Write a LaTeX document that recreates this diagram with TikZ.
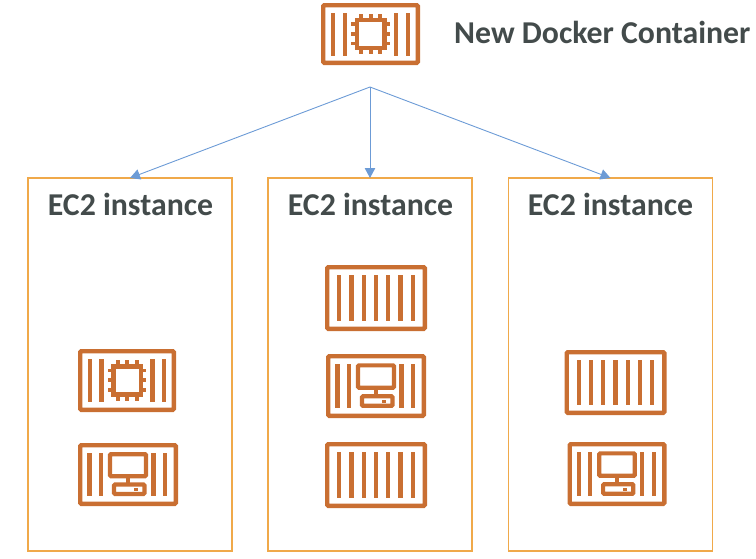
\documentclass[tikz,border=0pt]{standalone}
\usepackage{fontspec}
\setmainfont{Carlito}
\definecolor{iconc}{HTML}{C96F32}
\definecolor{boxc}{HTML}{F0A94A}
\definecolor{arrc}{HTML}{6C9BD6}
\definecolor{txtc}{HTML}{434B4B}
\usetikzlibrary{arrows.meta}
\newcommand{\icbars}[1]{\foreach \bx in {#1} \fill[iconc] (\bx-2.1,-21.5) rectangle (\bx+2.1,21.5);}
% #1 name, #2 x1, #3 y1, #4 x2, #5 y2, #6 kind
\newcommand{\ctr}[6]{%
  \node[iconbox,minimum width=#4-#2-4.4,minimum height=#5-#3-4.4] (#1) at ({(#2+#4)/2},{(#3+#5)/2}) {};
  \begin{scope}[shift={(#1.center)},xscale={(#4-#2)/100},yscale={-(#5-#3)/62}]
    #6
  \end{scope}}
\newcommand{\plainc}{\icbars{-36,-24,-12,0,12,24,36}}
\newcommand{\chipc}{\icbars{-37.5,-26,26,37.5}
  \draw[iconc,line width=4.2pt] (-13.8,-13.8) rectangle (14.2,13.8);
  \foreach \p in {-9.5,0.2,9.9} {
    \draw[iconc,line width=3.8pt] (\p,14) -- (\p,19.8);
    \draw[iconc,line width=3.8pt] (\p,-14) -- (\p,-19.8);
    \draw[iconc,line width=3.8pt] (14,\p) -- (19.8,\p);
    \draw[iconc,line width=3.8pt] (-14,\p) -- (-19.8,\p);}}
\newcommand{\pcc}{\icbars{-38.5,-27,25.5,37}
  \draw[iconc,line width=4.2pt,rounded corners=1pt] (-18,20) rectangle (18,-1.7);
  \fill[iconc] (-2.2,-1.7) rectangle (2.2,-8);
  \draw[iconc,line width=4.2pt,rounded corners=1pt] (-14,-9.9) rectangle (16.5,-19.2);
  \fill[iconc] (5.7,-13.7) rectangle (10,-16);}
\tikzset{
  iconbox/.style={draw=iconc,line width=4.4pt,rounded corners=1pt,inner sep=0pt,outer sep=0pt},
  hostbox/.style={draw=boxc,line width=1.6pt,inner sep=0pt,outer sep=0pt,minimum width=204,minimum height=373},
  hosttitle/.style={text=txtc,font=\fontsize{31.8}{36}\selectfont\bfseries,inner sep=0pt},
  link/.style={draw=arrc,line width=0.9pt,-{Triangle[length=10pt,width=10.5pt,fill=arrc]}}
}
\begin{document}
\begin{tikzpicture}[x=1pt,y=-1pt]
\useasboundingbox (0,0) rectangle (756,558);
\node[hostbox] (h1) at (130,364.5) {};
\node[hostbox] (h2) at (370,364.5) {};
\node[hostbox] (h3) at (610.5,364.5) {};
\node[hosttitle] (t1) at (130.5,204.2) {EC2 instance};
\node[hosttitle] (t2) at (370.5,204.2) {EC2 instance};
\node[hosttitle] (t3) at (610.5,204.2) {EC2 instance};
\node[hosttitle,anchor=west] (t0) at (454,32.2) {New Docker Container};
\ctr{top}{321}{3}{420}{65}{\chipc}
\ctr{a1}{78}{349}{176}{412}{\chipc}
\ctr{a2}{78}{443}{178}{506}{\pcc}
\ctr{b1}{325}{265}{427}{331}{\plainc}
\ctr{b2}{326}{354}{426}{418}{\pcc}
\ctr{b3}{325}{442}{427}{508}{\plainc}
\ctr{c1}{564.5}{350}{666.5}{415}{\plainc}
\ctr{c2}{567.5}{442}{666.5}{506}{\pcc}
\coordinate (apex) at (370,87);
\draw[link] (apex) -- (h1.north);
\draw[link] (apex) -- (h2.north);
\draw[link] (apex) -- (h3.north);
\end{tikzpicture}
\end{document}
